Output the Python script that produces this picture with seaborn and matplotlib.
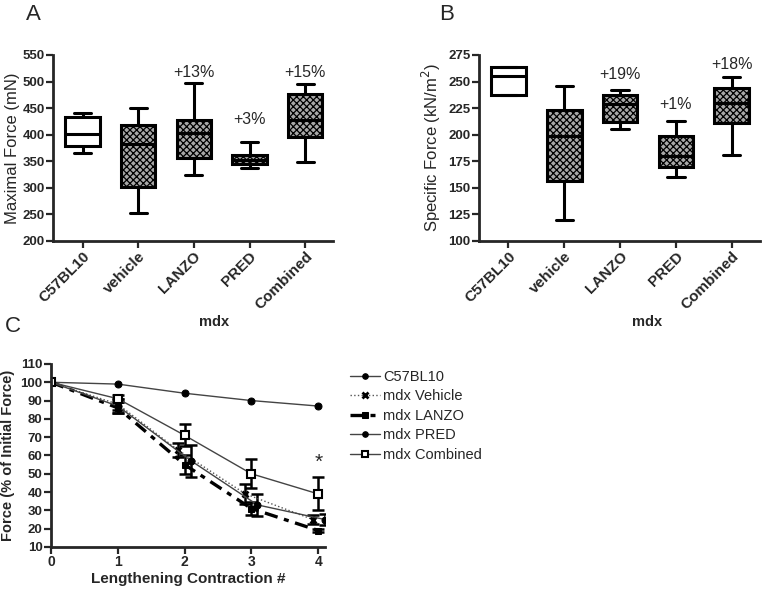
import matplotlib
matplotlib.use("Agg")
import matplotlib.pyplot as plt
import numpy as np
import pandas as pd
import seaborn as sns

sns.set_style("ticks")
plt.rcParams['font.family'] = ['Liberation Sans', 'DejaVu Sans']
plt.rcParams['hatch.linewidth'] = 0.9

# box summaries (min, q1, median, q3, max)
groups = ['C57BL10', 'vehicle', 'LANZO', 'PRED', 'Combined']

maxf_min = [365, 252, 325, 338, 349]
maxf_q1 = [379, 301, 357, 344, 396]
maxf_med = [402, 382, 403, 352, 428]
maxf_q3 = [433, 418, 428, 361, 476]
maxf_max = [440, 450, 498, 386, 495]
maxf_pct = ['', '', '+13%', '+3%', '+15%']
maxf_pct_y = [0, 0, 517, 428, 517]

spec_min = [237, 120, 205, 160, 181]
spec_q1 = [237, 156, 212, 170, 211]
spec_med = [255, 199, 229, 180, 230]
spec_q3 = [264, 223, 237, 199, 244]
spec_max = [264, 246, 242, 213, 254]
spec_pct = ['', '', '+19%', '+1%', '+18%']
spec_pct_y = [0, 0, 257, 228, 266]

# panel C
contraction = [0, 1, 2, 3, 4]
c57 = [100, 99, 94, 90, 87]
veh = [100, 88, 63, 39, 25]
veh_sem = [0, 3, 4, 5.5, 2.5]
lanzo = [100, 86, 55, 31, 19]
lanzo_sem = [0, 3, 5, 3.5, 0.8]
pred = [100, 87, 57, 33, 25]
pred_sem = [0, 4, 8.5, 6, 3]
comb = [100, 91, 71, 50, 39]
comb_sem = [0, 2, 6, 8, 9]
veh_shift = [0, 0, -0.1, -0.09, -0.08]
pred_shift = [0, 0, 0.1, 0.09, 0.1]


def long_df(mins, q1s, meds, q3s, maxs):
    rows = []
    for g, a, b, c, d, e in zip(groups, mins, q1s, meds, q3s, maxs):
        for v in (a, b, c, d, e):
            rows.append({'group': g, 'value': v})
    return pd.DataFrame(rows)


def style_axis(ax):
    sns.despine(ax=ax)
    for s in ('left', 'bottom'):
        ax.spines[s].set_linewidth(2)
    ax.tick_params(width=1.6, length=5, pad=1)
    for lab in ax.get_yticklabels():
        lab.set_fontweight('bold')
        lab.set_fontsize(9.5)


def box_panel(ax, df, ylim, step, ylabel, pct, pct_y, lab_x):
    pal = ['white'] + ['#a8a8a8'] * 4
    sns.boxplot(data=df, x='group', y='value', hue='group', palette=pal,
                whis=(0, 100), width=0.62, linewidth=2.2, linecolor='black',
                fliersize=0, legend=False, ax=ax)
    for i, p in enumerate(ax.patches):
        if i > 0:
            p.set_hatch('xxxxx')
    ax.set_ylim(*ylim)
    ax.set_yticks(np.arange(ylim[0], ylim[1] + 1, step))
    ax.set_xlim(-0.53, 4.5)
    ax.set_xlabel('')
    ax.set_ylabel(ylabel, fontsize=12)
    ax.yaxis.set_label_coords(lab_x, 0.5)
    ax.set_xticks(range(len(groups)))
    ax.set_xticklabels(groups, rotation=45, ha='right', rotation_mode='anchor',
                       fontsize=11, fontweight='bold')
    for i, (t, y) in enumerate(zip(pct, pct_y)):
        if t:
            ax.text(i, y, t, ha='center', va='center', fontsize=11.5)
    style_axis(ax)


fig = plt.figure(figsize=(7.65, 5.95), dpi=100)
axA = fig.add_axes([0.0693, 0.595, 0.366, 0.3126])
axB = fig.add_axes([0.626, 0.595, 0.367, 0.3126])
axC = fig.add_axes([0.0667, 0.0807, 0.358, 0.3076])

box_panel(axA, long_df(maxf_min, maxf_q1, maxf_med, maxf_q3, maxf_max),
          (200, 550), 50, 'Maximal Force (mN)', maxf_pct, maxf_pct_y, -0.118)
box_panel(axB, long_df(spec_min, spec_q1, spec_med, spec_q3, spec_max),
          (100, 275), 25, 'Specific Force (kN/m$^2$)', spec_pct, spec_pct_y, -0.128)

# panel C lines
x0 = np.array(contraction, dtype=float)
xv = x0 + np.array(veh_shift)
xp = x0 + np.array(pred_shift)

sns.lineplot(x=x0, y=c57, ax=axC, color='#444444', lw=1, marker='o', ms=5,
             mfc='black', mec='black', label='C57BL10')
sns.lineplot(x=xv, y=veh, ax=axC, color='#555555', lw=1, linestyle=':',
             marker='x', ms=5, mew=2, mec='black', label='mdx Vehicle')
sns.lineplot(x=x0, y=lanzo, ax=axC, color='black', lw=2.4, linestyle=(0, (4, 2, 1.5, 2)),
             marker='s', ms=5, mfc='black', mec='black', label='mdx LANZO')
sns.lineplot(x=xp, y=pred, ax=axC, color='#444444', lw=1, marker='o', ms=5,
             mfc='black', mec='black', label='mdx PRED')
sns.lineplot(x=x0, y=comb, ax=axC, color='#444444', lw=1, marker='s', ms=6,
             mfc='white', mec='black', mew=1.5, label='mdx Combined')

for xx, yy, ee in [(xv, veh, veh_sem), (x0, lanzo, lanzo_sem),
                   (xp, pred, pred_sem), (x0, comb, comb_sem)]:
    axC.errorbar(xx[1:], yy[1:], yerr=ee[1:], fmt='none', ecolor='black',
                 elinewidth=1.8, capsize=4, capthick=1.8, zorder=1)

axC.text(4, 56, '*', ha='center', va='center', fontsize=15)
axC.set_xlim(0, 4.1)
axC.set_ylim(10, 110)
axC.set_yticks(range(10, 111, 10))
axC.set_xticks(contraction)
axC.set_xlabel('Lengthening Contraction #', fontsize=11, fontweight='bold')
axC.set_ylabel('Force (% of Initial Force)', fontsize=10.5, fontweight='bold')
axC.yaxis.set_label_coords(-0.131, 0.5)
axC.xaxis.set_label_coords(0.5, -0.137)
style_axis(axC)
for lab in axC.get_xticklabels():
    lab.set_fontweight('bold')
    lab.set_fontsize(10)
axC.legend(loc='upper left', bbox_to_anchor=(1.045, 1.04), frameon=False,
           fontsize=10.5, handlelength=2, labelspacing=0.38, handletextpad=0.25,
           markerscale=0.8)

fig.text(33 / 765, 1 - 14 / 595, 'A', fontsize=16, ha='center', va='center')
fig.text(447 / 765, 1 - 15 / 595, 'B', fontsize=16, ha='center', va='center')
fig.text(13 / 765, 1 - 327 / 595, 'C', fontsize=16, ha='center', va='center')
fig.text(214 / 765, 1 - 322 / 595, 'mdx', fontsize=10.5, fontweight='bold', ha='center', va='center')
fig.text(647 / 765, 1 - 322 / 595, 'mdx', fontsize=10.5, fontweight='bold', ha='center', va='center')

fig.savefig('out.png', dpi=100)
